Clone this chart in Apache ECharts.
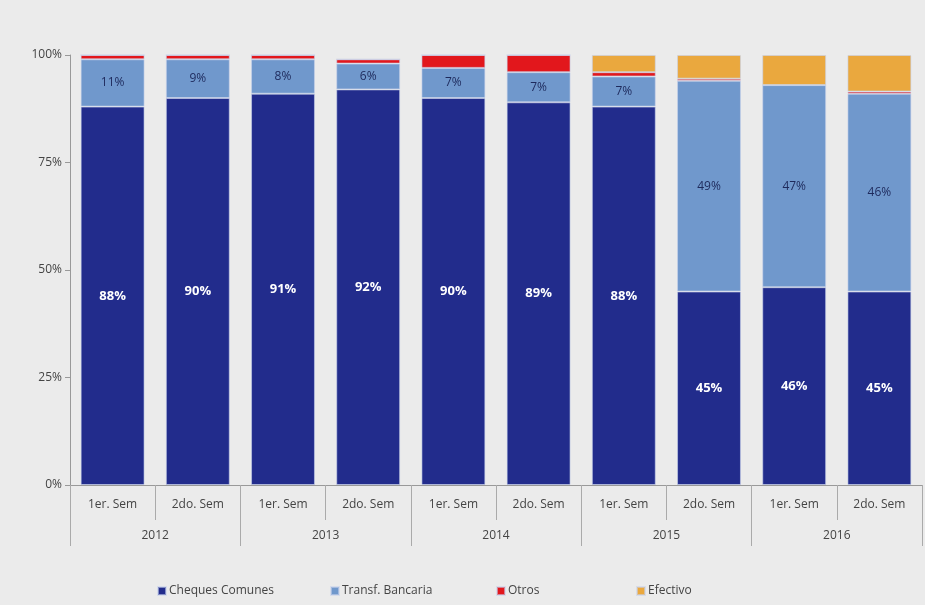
<!DOCTYPE html>
<html>
<head>
<meta charset="utf-8">
<script src="https://cdn.jsdelivr.net/npm/echarts@6/dist/echarts.min.js"></script>
<style>
  html, body { margin: 0; padding: 0; background: #ebebeb; }
  #chart { width: 925px; height: 605px; }
</style>
</head>
<body>
<div id="chart"></div>
<script>
const semesters = ['1er. Sem', '2do. Sem', '1er. Sem', '2do. Sem', '1er. Sem', '2do. Sem', '1er. Sem', '2do. Sem', '1er. Sem', '2do. Sem']
const years = ['2012', '2013', '2014', '2015', '2016']
const cheques = [88, 90, 91, 92, 90, 89, 88, 45, 46, 45]
const transf = [11, 9, 8, 6, 7, 7, 7, 49, 47, 46]
const otros = [1, 1, 1, 1, 3, 4, 1, 0.5, 0, 0.5]
const efectivo = [0, 0, 0, 0, 0, 0, 4, 5.5, 7, 8.5]
const names = ['Cheques Comunes', 'Transf. Bancaria', 'Otros', 'Efectivo']

const font = 'Open Sans, sans-serif'
const chart = echarts.init(document.getElementById('chart'))

const bar = (name, data, color, label) => ({
  name: name,
  type: 'bar',
  stack: 'total',
  barWidth: '75%',
  xAxisIndex: 0,
  itemStyle: { color: color, borderColor: 'rgba(200,210,235,0.6)', borderWidth: 1 },
  label: label,
  data: data
})

// una leyenda por serie para fijar la posicion de cada item
const legendLeft = [152, 325, 491, 631]
const legends = names.map((n, i) => ({
  bottom: 3,
  left: legendLeft[i],
  itemWidth: 8,
  itemHeight: 8,
  itemGap: 4,
  icon: 'rect',
  textStyle: { fontFamily: font, fontSize: 12, color: '#444', padding: [0, 0, 0, -2] },
  data: [n]
}))

chart.setOption({
  backgroundColor: '#ebebeb',
  animation: false,
  grid: { left: 70, right: 3, top: 55, bottom: 120 },
  legend: legends,
  xAxis: [
    {
      type: 'category',
      data: semesters,
      position: 'bottom',
      axisLine: { lineStyle: { color: '#999' } },
      axisTick: { show: true, interval: 0, length: 35, lineStyle: { color: '#aaa' } },
      axisLabel: { interval: 0, fontFamily: font, fontSize: 12, color: '#444', margin: 14 }
    },
    {
      type: 'category',
      data: years,
      position: 'bottom',
      offset: 35,
      axisLine: { show: false },
      axisTick: { show: true, interval: 0, length: 26, lineStyle: { color: '#aaa' } },
      axisLabel: { interval: 0, fontFamily: font, fontSize: 12, color: '#444', margin: 10 }
    }
  ],
  yAxis: {
    type: 'value',
    min: 0,
    max: 100,
    interval: 25,
    axisLine: { show: true, lineStyle: { color: '#999' } },
    axisTick: { show: true, length: 5, lineStyle: { color: '#999' } },
    splitLine: { show: false },
    axisLabel: { fontFamily: font, fontSize: 12, color: '#444', formatter: '{value}%' }
  },
  series: [
    bar('Cheques Comunes', cheques, '#222c8c', {
      show: true, position: 'inside', color: '#fff', fontWeight: 'bold',
      fontFamily: font, fontSize: 13, formatter: '{c}%'
    }),
    bar('Transf. Bancaria', transf, '#7098cc', {
      show: true, position: 'inside', color: '#1e2a5c',
      fontFamily: font, fontSize: 12, formatter: '{c}%'
    }),
    bar('Otros', otros, '#e2171c', { show: false }),
    bar('Efectivo', efectivo, '#eaa83e', { show: false })
  ]
})
</script>
</body>
</html>
